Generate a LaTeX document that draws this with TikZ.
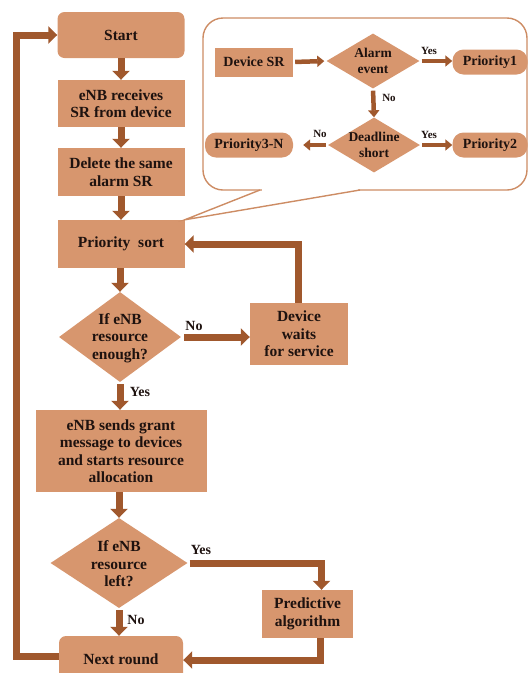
\documentclass[tikz,border=0pt]{standalone}
\usepackage{fontspec}
\setmainfont{Liberation Serif}
\usetikzlibrary{arrows.meta,shapes.geometric,calc}
\definecolor{boxfill}{RGB}{215,150,110}
\definecolor{arrowc}{RGB}{160,88,45}
\definecolor{calloutc}{RGB}{205,140,100}
\definecolor{txtc}{RGB}{30,18,15}
\tikzset{
  box/.style={fill=boxfill, draw=none, minimum width=127pt, align=center, inner sep=0pt,
    text=txtc, font=\fontsize{15.5}{17.5}\selectfont\bfseries},
  rbox/.style={box, rounded corners=7pt},
  dia/.style={diamond, fill=boxfill, draw=none, inner sep=0pt},
  dtxt/.style={align=center, text=txtc, font=\fontsize{15.5}{17.5}\selectfont\bfseries, inner sep=0pt},
  cbox/.style={fill=boxfill, draw=none, align=center, inner sep=0pt, minimum height=25pt,
    text=txtc, font=\fontsize{14}{15}\selectfont\bfseries},
  ctxt/.style={align=center, text=txtc, font=\fontsize{13.5}{15.5}\selectfont\bfseries, inner sep=0pt},
  flow/.style={draw=arrowc, line width=7pt, -{Triangle[width=17pt,length=9pt]}},
  cflow/.style={draw=arrowc, line width=4.5pt, -{Triangle[width=11pt,length=7pt]}},
  lab/.style={text=txtc, font=\fontsize{14}{14}\selectfont\bfseries, inner sep=0pt},
  clab/.style={text=txtc, font=\fontsize{11}{11}\selectfont\bfseries, inner sep=0pt},
  callout/.style={draw=calloutc, line width=1.4pt}
}
\begin{document}
\begin{tikzpicture}[x=1pt,y=-1pt]
\useasboundingbox (0,0) rectangle (529,673);

% main column
\node[rbox, minimum height=46pt] (start) at (121,35) {Start};
\node[box, minimum height=47pt] (recv) at (121,103.5) {eNB receives\\SR from device};
\node[box, minimum height=48pt] (del) at (121,172) {Delete the same\\alarm SR};
\node[box, minimum height=48pt] (psort) at (121,244) {Priority\ \ sort};
\node[dia, minimum width=122pt, minimum height=90pt] (d1) at (120,337) {};
\node[dtxt] (d1t) at (120,338) {If eNB\\resource\\enough?};
\node[box, minimum width=98pt, minimum height=62pt] (wait) at (299,334) {Device\\waits\\for service};
\node[box, minimum width=171pt, minimum height=82pt] (send) at (121,451) {eNB sends grant\\message to devices\\and starts resource\\allocation};
\node[dia, minimum width=137pt, minimum height=90pt] (d2) at (119,563) {};
\node[dtxt] (d2t) at (119,564) {If eNB\\resource\\left?};
\node[box, minimum width=91pt, minimum height=48pt] (pred) at (307.5,614) {Predictive\\algorithm};
\node[rbox, minimum width=124pt, minimum height=46pt] (next) at (121,659) {Next round};

% main connectors
\draw[flow] (start.south) -- (recv.north);
\draw[flow] (recv.south) -- (del.north);
\draw[flow] (del.south) -- (psort.north);
\draw[flow] (psort.south -| d1.north) -- (d1.north);
\draw[flow, shorten <=3pt] (d1.east) -- (d1.east -| wait.west);
\draw[flow] ([xshift=-1pt]wait.north) |- (psort.east);
\draw[flow, shorten <=2pt] (d1.south) -- (d1.south |- send.north);
\draw[flow] (send.south -| d2.north) -- (d2.north);
\draw[flow, shorten <=2pt] (d2.east) -| ([xshift=14pt]pred.north);
\draw[flow] ([xshift=13pt]pred.south) |- ([yshift=-1pt]next.east);
\draw[flow, shorten <=2pt] (d2.south) -- (d2.south |- next.north);
\draw[flow] ([yshift=3pt]next.west) -- ++(-42,0) |- (start.west);

\node[lab] (l1) at (194,326) {No};
\node[lab] (l2) at (140,392) {Yes};
\node[lab] (l3) at (201,550) {Yes};
\node[lab] (l4) at (136,620) {No};

% callout
\draw[callout, rounded corners=20pt] (203,18) rectangle (527,190);
\fill[white] (262,187) rectangle (358,193);
\draw[callout, line join=miter] (260,190) -- (psort.north east) -- (360,190);

\node[cbox, minimum width=78pt, minimum height=29pt] (devsr) at (254,62) {Device SR};
\node[dia, minimum width=93pt, minimum height=55pt] (alarm) at (373,61) {};
\node[ctxt] (alarmt) at (373,61) {Alarm\\event};
\node[cbox, minimum width=75pt, rounded corners=11pt] (p1) at (490,62) {Priority1};
\node[dia, minimum width=92pt, minimum height=55pt] (dead) at (374,145) {};
\node[ctxt] (deadt) at (374,145) {Deadline\\short};
\node[cbox, minimum width=75pt, rounded corners=11pt] (p2) at (490,145) {Priority2};
\node[cbox, minimum width=88pt, rounded corners=11pt] (p3) at (249,145) {Priority3-N};

\draw[cflow, shorten <=2pt, shorten >=2pt] (devsr.east) -- (alarm.west);
\draw[cflow, shorten <=2pt] (alarm.east) -- (alarm.east -| p1.west);
\draw[cflow, shorten <=2pt] (alarm.south) -- (dead.north);
\draw[cflow, shorten <=2pt] (dead.east) -- (p2.west);
\draw[cflow, shorten <=2pt, shorten >=10pt] (dead.west) -- (p3.east);

\node[clab] (c1) at (429,51) {Yes};
\node[clab] (c2) at (389,98) {No};
\node[clab] (c3) at (429,135) {Yes};
\node[clab] (c4) at (320,134) {No};
\end{tikzpicture}
\end{document}
